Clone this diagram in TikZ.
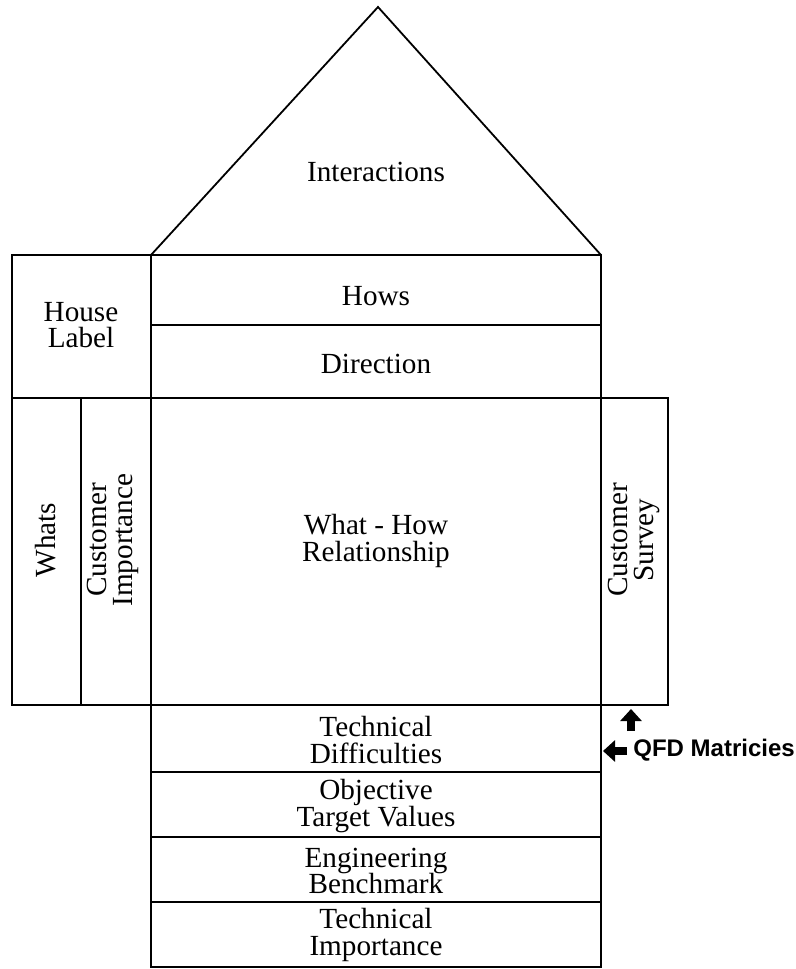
\documentclass[tikz,border=0pt]{standalone}
\usepackage{fontspec}
\setmainfont{Liberation Serif}
\newfontfamily\qfdsans{Liberation Sans}
\usetikzlibrary{arrows.meta}

\begin{document}
\begin{tikzpicture}[x=0.5pt,y=-0.5pt,
  frame/.style={draw,line width=1.2pt,line join=miter},
  roof/.style={draw,line width=0.9pt,line join=miter},
  lbl/.style={align=center,inner sep=0pt,font=\fontsize{14.6}{13.4}\selectfont},
  vlbl/.style={lbl,rotate=90},
  qfdarrow/.style={line width=4pt,-{Triangle[width=10.5pt,length=6pt]}}]
\useasboundingbox (0,0) rectangle (796,969);
% roof
\draw[roof] (151,255) -- (378,7) -- (601,255);
% upper floor
\draw[frame] (12,255) rectangle (151,398);
\draw[frame] (151,255) rectangle (601,325);
\draw[frame] (151,325) rectangle (601,398);
% main floor
\draw[frame] (12,398) rectangle (81,705);
\draw[frame] (81,398) rectangle (151,705);
\draw[frame] (151,398) rectangle (601,705);
\draw[frame] (601,398) rectangle (668,705);
% basement
\foreach \ya/\yb in {705/772,772/837,837/902,902/967}
  \draw[frame] (151,\ya) rectangle (601,\yb);
\node[lbl] (interact) at (376,172) {Interactions};
\node[lbl] (houselbl) at (81,325) {House\\Label};
\node[lbl] (hows) at (376,296) {Hows};
\node[lbl] (direction) at (376,364) {Direction};
\node[vlbl] (whats) at (46,540) {Whats};
\node[vlbl] (custimp) at (113,540) {Customer\\Importance};
\node[lbl] (relation) at (376,541) {What - How\\Relationship};
\node[vlbl] (survey) at (634,540) {Customer\\Survey};
\node[lbl] (techdiff) at (376,740) {Technical\\Difficulties};
\node[lbl] (target) at (376,806) {Objective\\Target Values};
\node[lbl] (bench) at (376,871) {Engineering\\Benchmark};
\node[lbl] (techimp) at (376,935) {Technical\\Importance};
\node[anchor=west,inner sep=0pt,font=\qfdsans\bfseries\fontsize{12}{14}\selectfont]
  (qfd) at (633,750) {QFD Matricies};
\coordinate (upTail) at (631,731);
\coordinate (upTip) at (631,709);
\coordinate (leftTail) at (627,751);
\coordinate (leftTip) at (603,751);
\draw[qfdarrow] (upTail) -- (upTip);
\draw[qfdarrow] (leftTail) -- (leftTip);
\end{tikzpicture}
\end{document}
